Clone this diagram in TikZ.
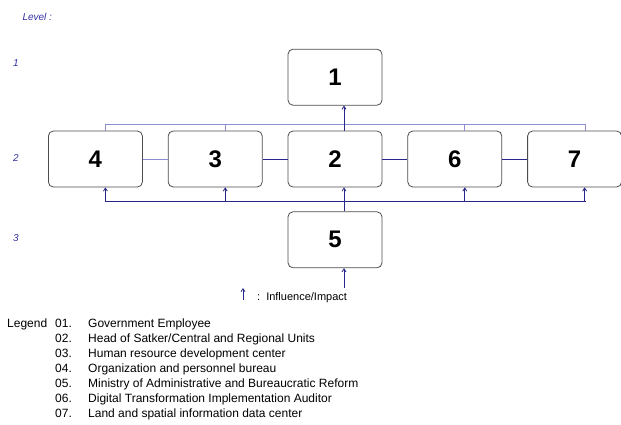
\documentclass[tikz,border=0pt]{standalone}
\usepackage{fontspec}
\setmainfont{Liberation Sans}
\usetikzlibrary{arrows.meta, positioning}
\definecolor{linknavy}{RGB}{40,40,140}
\definecolor{buslilac}{RGB}{140,140,210}
\definecolor{levelblue}{RGB}{50,50,165}
\tikzset{
  unit box/.style={
    draw=black!70,
    line width=0.8pt,
    rounded corners=5pt,
    minimum width=94pt,
    minimum height=56pt,
    font=\fontsize{24}{24}\selectfont\bfseries
  },
  link/.style={
    draw=linknavy,
    line width=0.8pt
  },
  bus/.style={
    draw=buslilac,
    line width=0.8pt
  },
  flow/.style={
    -{Straight Barb[length=3pt,width=4pt]},
    draw=linknavy,
    line width=0.8pt
  },
  level label/.style={
    font=\fontsize{10}{10}\selectfont\itshape,
    text=levelblue
  },
  legend text/.style={
    anchor=base west,
    inner sep=0pt,
    font=\fontsize{12}{12}\selectfont
  }
}

\begin{document}
\begin{tikzpicture}[x=1pt, y=1pt]
    \useasboundingbox (0,0) rectangle (621,-424);

    % levels
    \node[level label, anchor=west] (LevelTitle) at (19,-17) {Level :};
    \node[level label] (LevelOne) at (16,-63) {1};
    \node[level label] (LevelTwo) at (16,-158) {2};
    \node[level label] (LevelThree) at (16,-238) {3};

    % units
    \node[unit box] (Head) at (335,-159) {2};
    \node[unit box, left=25pt of Head] (HRDC) {3};
    \node[unit box, left=25pt of HRDC] (Bureau) {4};
    \node[unit box, right=25pt of Head] (Auditor) {6};
    \node[unit box, right=25pt of Auditor] (DataCenter) {7};
    \node[unit box, above=25pt of Head] (Employee) {1};
    \node[unit box, below=24pt of Head] (Ministry) {5};

    % top bus
    \draw[bus] ([xshift=10pt]Bureau.north) -- ++(0,6) -| ([xshift=11pt]DataCenter.north);
    \foreach \b in {HRDC, Auditor}
      \draw[bus] ([xshift=10pt]\b.north) -- ++(0,6);

    % links in level 2
    \draw[bus] (Bureau) -- (HRDC);
    \draw[link] (HRDC) -- (Head);
    \draw[link] (Head) -- (Auditor);
    \draw[link] (Auditor) -- (DataCenter);

    % bottom bus, influence upward
    \draw[link] ([xshift=10pt,yshift=-14pt]Bureau.south) -- ([xshift=11pt,yshift=-14pt]DataCenter.south);
    \foreach \b in {Bureau, HRDC, Auditor, DataCenter}
      \draw[flow] ([xshift=10pt,yshift=-14pt]\b.south) -- ([xshift=10pt]\b.south);
    \draw[flow] ([xshift=9pt]Ministry.north) -- ([xshift=9pt]Head.south);
    \draw[flow] ([xshift=9pt]Head.north) -- ([xshift=9pt]Employee.south);
    \coordinate (Source) at ([xshift=9pt,yshift=-20pt]Ministry.south);
    \draw[flow] (Source) -- ([xshift=9pt]Ministry.south);

    % key
    \coordinate (KeyTail) at (243,-300);
    \draw[flow] (KeyTail) -- ++(0,12);
    \node[legend text, font=\fontsize{11}{11}\selectfont] (KeyText) at (257,-300) {:\hspace{6pt}Influence/Impact};

    % legend
    \node[legend text] (LegendTitle) at (7,-327) {Legend};
    \foreach \t [count=\i] in {Government Employee,
        Head of Satker/Central and Regional Units,
        Human resource development center,
        Organization and personnel bureau,
        Ministry of Administrative and Bureaucratic Reform,
        Digital Transformation Implementation Auditor,
        Land and spatial information data center} {
      \node[legend text] (Num\i) at (55,{-327-15*(\i-1)}) {0\i.};
      \node[legend text] (Item\i) at (88,{-327-15*(\i-1)}) {\t};
    }

  \end{tikzpicture}
\end{document}
